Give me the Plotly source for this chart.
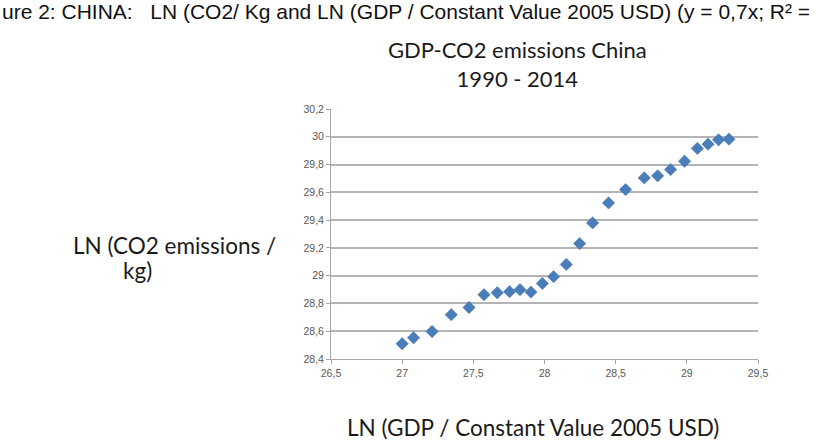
import plotly.graph_objects as go

years = list(range(1990, 2015))
ln_gdp = [27.00, 27.08, 27.21, 27.345, 27.47, 27.575, 27.668, 27.755, 27.828, 27.905,
          27.985, 28.064, 28.153, 28.247, 28.338, 28.45, 28.57, 28.701, 28.795, 28.886,
          28.984, 29.074, 29.149, 29.223, 29.296]
ln_co2 = [28.51, 28.553, 28.598, 28.719, 28.771, 28.863, 28.877, 28.885, 28.899, 28.882,
          28.944, 28.993, 29.081, 29.231, 29.380, 29.524, 29.620, 29.704, 29.719, 29.764,
          29.824, 29.916, 29.947, 29.978, 29.983]

caption = "ure 2: CHINA:   LN (CO2/ Kg and LN (GDP / Constant Value 2005 USD) (y = 0,7x; R² ="
chart_title = "GDP-CO2 emissions China<br>1990 - 2014"
y_title_1 = "LN (CO2 emissions /"
y_title_2 = "kg)"
x_title = "LN (GDP / Constant Value 2005 USD)"

W, H = 834, 448
L, R, T, B = 331, 76, 109, 89

fig = go.Figure()
fig.add_trace(go.Scatter(
    x=ln_gdp, y=ln_co2, mode="markers", text=[str(y) for y in years],
    marker=dict(symbol="diamond", size=9.5, color="#4a7ebb",
                line=dict(color="#3f6fa8", width=0.5)),
    showlegend=False,
))

tickfont = dict(family="Liberation Sans, Arial", size=10.5, color="#595959")
fig.update_layout(
    width=W, height=H,
    margin=dict(l=L, r=R, t=T, b=B),
    paper_bgcolor="white", plot_bgcolor="white",
    separators=",.",
    xaxis=dict(range=[26.5, 29.5], tick0=26.5, dtick=0.5, showgrid=False,
               showline=True, linecolor="#a6a6a6", linewidth=1,
               ticks="outside", ticklen=4, tickcolor="#a6a6a6",
               tickfont=tickfont, zeroline=False),
    yaxis=dict(range=[28.4, 30.2], tick0=28.4, dtick=0.2, showgrid=True,
               gridcolor="#b4b4b4", gridwidth=1.5,
               showline=True, linecolor="#a6a6a6", linewidth=1,
               ticks="outside", ticklen=4, tickcolor="#a6a6a6",
               tickfont=tickfont, zeroline=False),
)

PW = W - L - R
PH = H - T - B

def px_x(p):
    return (p - L) / PW

def px_y(p):
    return (H - B - p) / PH

annots = [
    dict(text=caption, x=px_x(0), y=px_y(11), xanchor="left", yanchor="middle",
         font=dict(family="Liberation Sans, Arial", size=21, color="#111111")),
    dict(text=chart_title, x=px_x(517), y=px_y(64), xanchor="center", yanchor="middle",
         font=dict(family="Lato, Open Sans", size=22, color="#1a1a1a")),
    dict(text=y_title_1, x=px_x(174), y=px_y(245), xanchor="center", yanchor="middle",
         font=dict(family="Lato, Open Sans", size=22.5, color="#1a1a1a")),
    dict(text=y_title_2, x=px_x(137), y=px_y(270), xanchor="center", yanchor="middle",
         font=dict(family="Lato, Open Sans", size=22.5, color="#1a1a1a")),
    dict(text=x_title, x=px_x(533), y=px_y(427), xanchor="center", yanchor="middle",
         font=dict(family="Lato, Open Sans", size=22.5, color="#1a1a1a")),
]
for a in annots:
    fig.add_annotation(xref="paper", yref="paper", showarrow=False, **a)

fig.write_html("out.html")
